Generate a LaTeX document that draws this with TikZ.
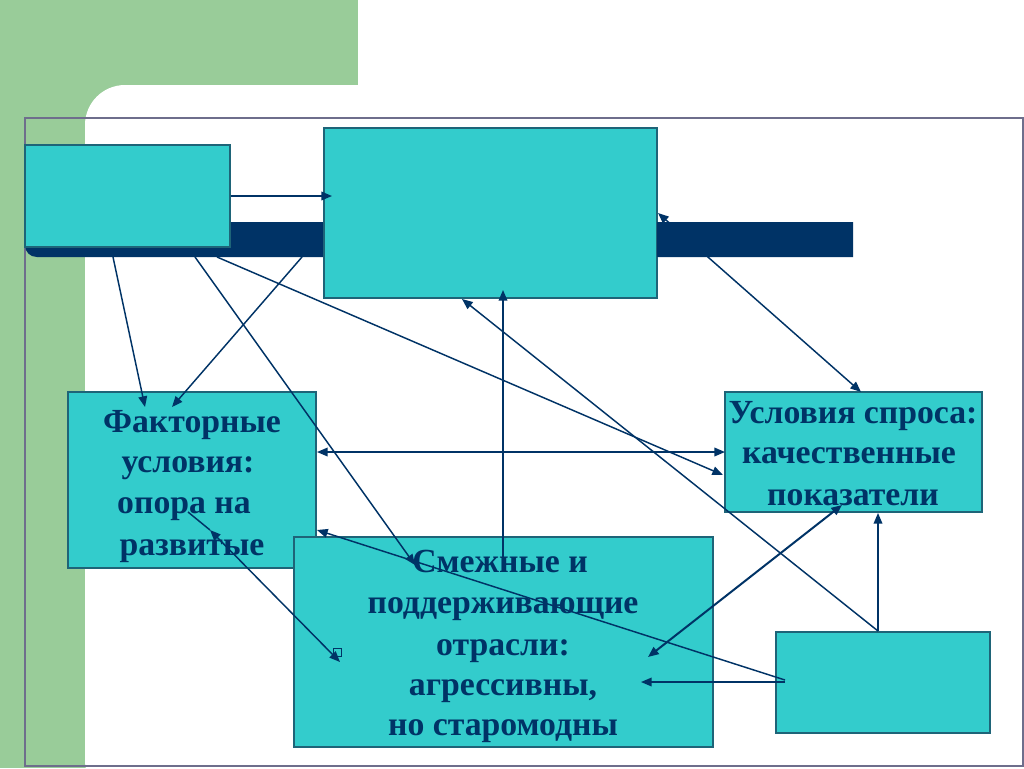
\documentclass[tikz,border=0pt]{standalone}
\usepackage{fontspec}
\setmainfont{Liberation Serif}
\usetikzlibrary{arrows.meta,fit}
\definecolor{bggreen}{HTML}{99CC99}
\definecolor{cyanbox}{HTML}{33CCCC}
\definecolor{navy}{HTML}{003366}
\definecolor{framecol}{RGB}{110,110,140}
\definecolor{boxedge}{RGB}{30,100,120}
\begin{document}
\begin{tikzpicture}[x=0.75pt,y=-0.75pt,
 cbox/.style={draw=boxedge,line width=0.8pt,fill=cyanbox,inner sep=0pt},
 lbl/.style={text=navy,font=\fontsize{25.3}{30}\selectfont\bfseries,inner sep=0pt,anchor=base},
 conn/.style={draw=navy,line width=1.1pt},
 onearrow/.style={-{Triangle[length=8pt,width=6.5pt]}},
 twoarrow/.style={{Triangle[length=8pt,width=6.5pt]}-{Triangle[length=8pt,width=6.5pt]}}]
\useasboundingbox (0,0) rectangle (1024,768);
% background
\fill[bggreen] (0,0) rectangle (1024,768);
\fill[white] (358,-2) rectangle (1026,86);
\fill[white, rounded corners=30] (85,85) rectangle (1080,800);
\draw[framecol, line width=0.8pt] (25,118) rectangle (1023,766);
% navy bar
\fill[navy] (853,222) -- (853,257) -- (37,257) .. controls (30,257) and (25,252) .. (25,245) -- (25,222) -- cycle;
% boxes
\node[cbox, fit={(25,145) (230,247)}] (tl) {};
\node[cbox, fit={(324,128) (657,298)}] (top) {};
\node[cbox, fit={(68,392) (316,568)}] (fact) {};
\node[cbox, fit={(725,392) (982,512)}] (dem) {};
\node[cbox, fit={(294,537) (713,747)}] (rel) {};
\node[cbox, fit={(776,632) (990,733)}] (br) {};
\node[draw=navy, line width=0.6pt, minimum size=6.5pt, inner sep=0pt] (sq) at (337.5,652.5) {};
% texts
\node[lbl] (f1) at (192,432) {Факторные};
\node[lbl] (f2) at (188,472) {условия:};
\node[lbl] (f3) at (184,513) {опора на\ };
\node[lbl] (f4) at (192,555) {развитые};
\node[lbl] (d1) at (853,423) {Условия спроса:};
\node[lbl] (d2) at (849,463) {качественные};
\node[lbl] (d3) at (853,505) {показатели};
\node[lbl] (r1) at (500,572) {Смежные и};
\node[lbl] (r2) at (503,613) {поддерживающие};
\node[lbl] (r3) at (503,655) {отрасли:};
\node[lbl] (r4) at (503,695) {агрессивны,};
\node[lbl] (r5) at (503,735) {но старомодны};
% connector end points
\coordinate (a1) at (332,196);
\coordinate (b2s) at (113,257); \coordinate (b2e) at (145,407);
\coordinate (b3s) at (302,257); \coordinate (b3e) at (172,407);
\coordinate (b4s) at (195,257); \coordinate (b4e) at (415,565);
\coordinate (b5s) at (217,257); \coordinate (b5e) at (723,475);
\coordinate (h6s) at (317,452); \coordinate (h6e) at (725,452);
\coordinate (v7s) at (503,557); \coordinate (v7e) at (503,290);
\coordinate (brt) at (878,631);
\coordinate (d8e) at (462,299);
\coordinate (v9e) at (878,513);
\coordinate (x10s) at (842,505); \coordinate (x10e) at (648,657);
\coordinate (brl) at (785,682); \coordinate (h11e) at (641,682);
\coordinate (brl2) at (785,680); \coordinate (d12e) at (317,530);
\coordinate (x13s) at (658,213); \coordinate (x13e) at (861,392);
\coordinate (o14s) at (188,512); \coordinate (o14m) at (210,530); \coordinate (o14e) at (340,662);
% connectors
\draw[conn, onearrow] (tl.east) -- (a1);
\draw[conn, onearrow] (b2s) -- (b2e);
\draw[conn, onearrow] (b3s) -- (b3e);
\draw[conn, onearrow] (b4s) -- (b4e);
\draw[conn, onearrow] (b5s) -- (b5e);
\draw[conn, twoarrow] (h6s) -- (h6e);
\draw[conn, onearrow] (v7s) -- (v7e);
\draw[conn, onearrow] (brt) -- (d8e);
\draw[conn, onearrow] (brt) -- (v9e);
\draw[conn, twoarrow, line width=1.5pt] (x10s) -- (x10e);
\draw[conn, onearrow] (brl) -- (h11e);
\draw[conn, onearrow] (brl2) -- (d12e);
\draw[conn, twoarrow] (x13s) -- (x13e);
\draw[conn] (o14s) -- (o14m);
\draw[conn, twoarrow] (o14m) -- (o14e);
% bar part to the right of the top box lies over the connector
\fill[navy] (657.4,222) rectangle (853,257);
\end{tikzpicture}
\end{document}
